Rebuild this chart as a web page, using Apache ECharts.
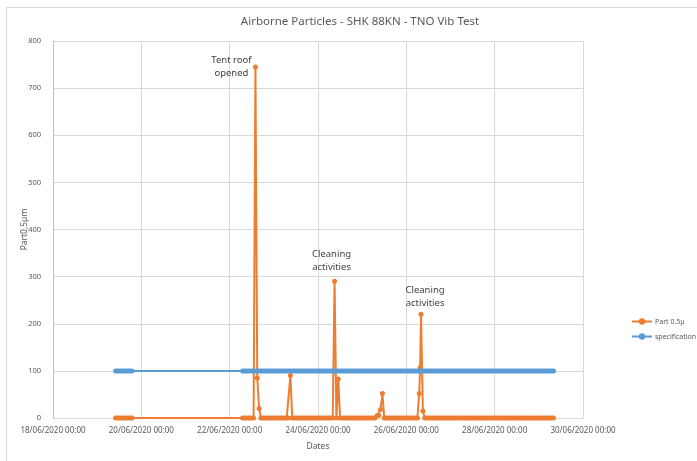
<!DOCTYPE html>
<html>
<head>
<meta charset="utf-8">
<script src="https://cdn.jsdelivr.net/npm/echarts@6/dist/echarts.min.js"></script>
<style>
html,body{margin:0;padding:0;background:#fff;}
#chart{width:697px;height:461px;}
</style>
</head>
<body>
<div id="chart"></div>
<script>
// ---- data ----
const xTickLabels = ['18/06/2020 00:00','20/06/2020 00:00','22/06/2020 00:00','24/06/2020 00:00','26/06/2020 00:00','28/06/2020 00:00','30/06/2020 00:00'];
const seriesNames = ['Part 0.5µ', 'specification'];
// hourly readings, segment 1 starts 19/06/2020 10:00
const seg1Start = [2020, 5, 19, 10];
const part05Seg1 = [0,0,0,0,0,0,0,0,0,0];
// hourly readings, segment 2 starts 22/06/2020 07:00
const seg2Start = [2020, 5, 22, 7];
const part05Seg2 = [
  0,0,0,0,0,0,0,745,85,20,0,0,0,0,0,0,0,0,0,0,0,0,0,0,
  0,0,90,0,0,0,0,0,0,0,0,0,0,0,0,0,0,0,0,0,0,0,0,0,
  0,0,290,0,83,0,0,0,0,0,0,0,0,0,0,0,0,0,0,0,0,0,0,0,
  0,5,6,18,52,0,0,0,0,0,0,0,0,0,0,0,0,0,0,0,0,0,0,0,
  52,220,15,0,0,0,0,0,0,0,0,0,0,0,0,0,0,0,0,0,0,0,0,0,
  0,0,0,0,0,0,0,0,0,0,0,0,0,0,0,0,0,0,0,0,0,0,0,0,
  0,0,0,0,0,0,0,0,0,0,0,0,0,0,0,0,0,0,0,0,0,0,0,0,
  0,0
];
// extra (off-grid) readings: [year, month0, day, hour, minute], value
const extraTimes = [[2020, 5, 26, 7, 30]];
const extraValues = [107];
const specLimit = 100;
const annotationTexts = ['Tent roof\nopened', 'Cleaning\nactivities', 'Cleaning\nactivities'];
const annotationIdx = [7, 50, 97]; // index in segment 2

// ---- build ----
const DAY = 86400000, HOUR = 3600000;
const axisStart = new Date(2020, 5, 18, 0, 0).getTime();
function toDays(startArr, i) {
  const t = new Date(startArr[0], startArr[1], startArr[2], startArr[3]).getTime() + i * HOUR;
  return (t - axisStart) / DAY;
}
const partData = [], specData = [];
part05Seg1.forEach((v, i) => { partData.push([toDays(seg1Start, i), v]); specData.push([toDays(seg1Start, i), specLimit]); });
part05Seg2.forEach((v, i) => { partData.push([toDays(seg2Start, i), v]); specData.push([toDays(seg2Start, i), specLimit]); });
extraTimes.forEach((a, k) => {
  const x = (new Date(a[0], a[1], a[2], a[3], a[4]).getTime() - axisStart) / DAY;
  partData.push([x, extraValues[k]]);
  specData.push([x, specLimit]);
});
partData.sort((a, b) => a[0] - b[0]);
specData.sort((a, b) => a[0] - b[0]);

const offsets = [[-24, 0], [-3, -21], [4, -18]];
const markData = annotationTexts.map((t, k) => ({
  coord: [toDays(seg2Start, annotationIdx[k]), part05Seg2[annotationIdx[k]]],
  label: { show: true, formatter: t, offset: offsets[k] }
}));

const txt = '#595959';
const font = 'Noto Sans';
const chart = echarts.init(document.getElementById('chart'), null, { renderer: 'canvas' });
chart.setOption({
  animation: false,
  textStyle: { fontFamily: font },
  title: {
    text: 'Airborne Particles - SHK 88KN - TNO Vib Test',
    left: 355, top: 11, textAlign: 'center',
    textStyle: { fontSize: 11.5, fontWeight: 'normal', color: txt, fontFamily: font }
  },
  graphic: [{
    type: 'rect', shape: { x: 6.5, y: 7.5, width: 720, height: 480 },
    style: { fill: 'none', stroke: '#d9d9d9', lineWidth: 1 }, silent: true, z: -1
  }],
  legend: {
    orient: 'vertical', left: 626, top: 313, itemGap: 8,
    itemWidth: 20, itemHeight: 8,
    textStyle: { fontSize: 7, color: txt, fontFamily: font, padding: [0, 0, 0, -2] },
    data: seriesNames
  },
  grid: { left: 53, right: 114, top: 41, bottom: 43, containLabel: false },
  xAxis: {
    type: 'value', min: 0, max: 12, interval: 2,
    name: 'Dates', nameLocation: 'middle', nameGap: 24, nameMoveOverlap: false,
    nameTextStyle: { fontSize: 8.5, color: txt, fontFamily: font },
    axisLine: { show: true, lineStyle: { color: '#d9d9d9' } },
    axisTick: { show: false },
    axisLabel: { fontSize: 8, color: txt, margin: 9, formatter: v => xTickLabels[Math.round(v / 2)] || '' },
    splitLine: { show: true, lineStyle: { color: '#d9d9d9', width: 1 } }
  },
  yAxis: {
    type: 'value', min: 0, max: 800, interval: 100,
    name: 'Part0,5µm', nameLocation: 'middle', nameGap: 24, nameRotate: 90, nameMoveOverlap: false,
    nameTextStyle: { fontSize: 8.5, color: txt, fontFamily: font },
    axisLine: { show: true, lineStyle: { color: '#bfbfbf' } },
    axisTick: { show: false },
    axisLabel: { fontSize: 7.5, color: txt, margin: 12 },
    splitLine: { show: true, lineStyle: { color: '#d9d9d9', width: 1 } }
  },
  series: [
    {
      name: seriesNames[0], type: 'line', data: partData,
      symbol: 'circle', symbolSize: 5, showAllSymbol: true,
      itemStyle: { color: '#ED7D31' },
      lineStyle: { color: '#ED7D31', width: 2 },
      markPoint: {
        symbol: 'circle', symbolSize: 0,
        label: { color: '#404040', fontSize: 9.5, lineHeight: 13, fontFamily: font, position: 'inside' },
        data: markData
      }
    },
    {
      name: seriesNames[1], type: 'line', data: specData,
      symbol: 'circle', symbolSize: 5, showAllSymbol: true,
      itemStyle: { color: '#5B9BD5' },
      lineStyle: { color: '#5B9BD5', width: 2 }
    }
  ]
});
</script>
</body>
</html>
